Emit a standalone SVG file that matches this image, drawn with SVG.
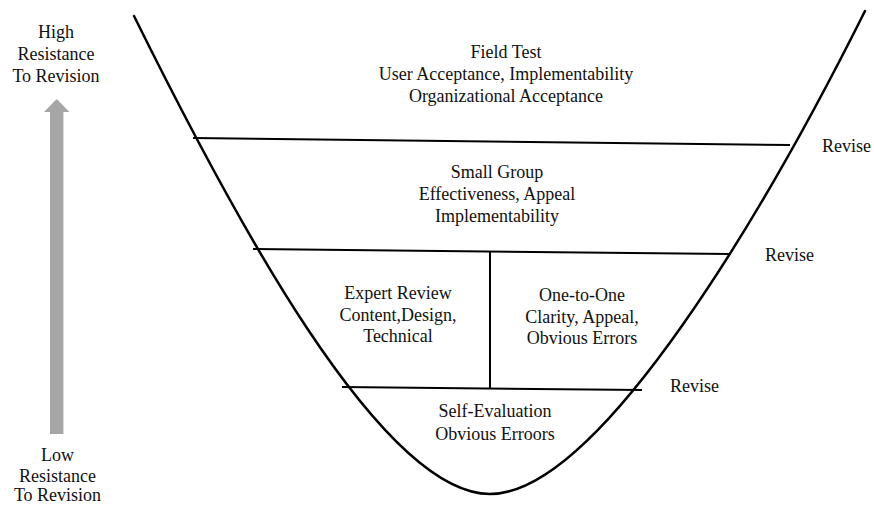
<svg xmlns="http://www.w3.org/2000/svg" width="874" height="506" viewBox="0 0 874 506">
  <style>
    text { font-family: "Liberation Serif", "Times New Roman", serif; font-size: 18px; fill: #111; }
    .c { text-anchor: middle; }
    .edge { stroke: #000; stroke-width: 2; fill: none; }
    .bowl { stroke: #000; stroke-width: 2.5; fill: none; stroke-linecap: round; }
  </style>

  <!-- resistance arrow -->
  <g id="resistance-axis">
    <path d="M50,434 L50,112 L44,112 L56.7,99 L69.4,112 L63.4,112 L63.4,434 Z" fill="#a6a6a6"/>
    <text class="c" x="56" y="38">High</text>
    <text class="c" x="56" y="60">Resistance</text>
    <text class="c" x="56" y="82">To Revision</text>
    <text class="c" x="57.5" y="461">Low</text>
    <text class="c" x="57.5" y="482">Resistance</text>
    <text class="c" x="57.5" y="501">To Revision</text>
  </g>

  <!-- bowl and dividing lines -->
  <g id="connectors">
    <path class="bowl" d="M134,16 C230,210 380,494 490,494 C600,494 768,205 865,11"/>
    <line class="edge" x1="193" y1="138" x2="790" y2="145"/>
    <line class="edge" x1="253" y1="249" x2="730" y2="254"/>
    <line class="edge" x1="342" y1="387" x2="642" y2="390"/>
    <line class="edge" x1="490" y1="251" x2="490" y2="388"/>
  </g>

  <g id="field-test">
    <text class="c" x="506" y="58">Field Test</text>
    <text class="c" x="506" y="80">User Acceptance, Implementability</text>
    <text class="c" x="506" y="102">Organizational Acceptance</text>
  </g>

  <g id="small-group">
    <text class="c" x="497" y="178">Small Group</text>
    <text class="c" x="497" y="200">Effectiveness, Appeal</text>
    <text class="c" x="497" y="222">Implementability</text>
  </g>

  <g id="expert-review">
    <text class="c" x="398" y="299">Expert Review</text>
    <text class="c" x="398" y="321">Content,Design,</text>
    <text class="c" x="398" y="342">Technical</text>
  </g>

  <g id="one-to-one">
    <text class="c" x="582" y="301">One-to-One</text>
    <text class="c" x="582" y="323">Clarity, Appeal,</text>
    <text class="c" x="582" y="344">Obvious Errors</text>
  </g>

  <g id="self-evaluation">
    <text class="c" x="495" y="417">Self-Evaluation</text>
    <text class="c" x="495" y="440">Obvious Erroors</text>
  </g>

  <g id="revise-labels">
    <text x="822" y="152">Revise</text>
    <text x="765" y="261">Revise</text>
    <text x="670" y="392">Revise</text>
  </g>
</svg>
